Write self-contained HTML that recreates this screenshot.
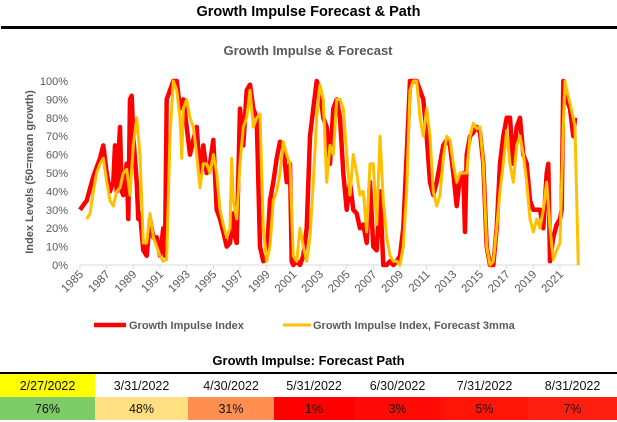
<!DOCTYPE html>
<html><head><meta charset="utf-8">
<style>
html,body{margin:0;padding:0;background:#fff;}
body{width:617px;height:422px;position:relative;overflow:hidden;font-family:"Liberation Sans",sans-serif;}
#main-title{position:absolute;left:0;width:617px;top:4px;text-align:center;font-weight:bold;font-size:14.5px;color:#000;}
#title-rule{position:absolute;left:1px;width:616px;top:26px;height:3px;background:#000;}
#table-title{position:absolute;left:0;width:617px;top:353px;text-align:center;font-weight:bold;font-size:13px;color:#000;}
#path-table{position:absolute;left:0;top:372px;width:617px;border-collapse:collapse;border-top:2px solid #000;font-size:12.5px;}
#path-table td{text-align:center;padding:0;height:23px;color:#111;}
</style></head><body>
<div id="main-title">Growth Impulse Forecast &amp; Path</div>
<div id="title-rule"></div>
<svg id="chart" width="617" height="345" style="position:absolute;left:0;top:0" xmlns="http://www.w3.org/2000/svg"></svg>
<div id="table-title">Growth Impulse: Forecast Path</div>
<table id="path-table">
<tr>
<td style="width:95px;background:#ffff00">2/27/2022</td>
<td style="width:93px">3/31/2022</td>
<td style="width:86px">4/30/2022</td>
<td style="width:80px">5/31/2022</td>
<td style="width:87px">6/30/2022</td>
<td style="width:87px">7/31/2022</td>
<td style="width:89px">8/31/2022</td>
</tr>
<tr>
<td style="background:#7dcc68">76%</td>
<td style="background:#ffdf80">48%</td>
<td style="background:#ff8f50">31%</td>
<td style="background:#ff0000">1%</td>
<td style="background:#ff0a04">3%</td>
<td style="background:#ff1408">5%</td>
<td style="background:#ff1e10">7%</td>
</tr>
</table>
<script>
const redYears=[1985,1985.5,1986,1986.5,1986.75,1987,1987.25,1987.5,1987.625,1987.75,1988,1988.125,1988.25,1988.5,1988.625,1988.75,1988.875,1989,1989.25,1989.375,1989.5,1989.75,1990,1990.25,1990.5,1990.75,1991,1991.25,1991.375,1991.5,1991.75,1992,1992.25,1992.5,1992.75,1993,1993.25,1993.5,1993.75,1994,1994.25,1994.5,1994.75,1995,1995.25,1995.5,1995.75,1996,1996.25,1996.5,1996.625,1996.75,1997,1997.25,1997.5,1997.75,1998,1998.25,1998.5,1998.75,1999,1999.25,1999.5,1999.75,2000,2000.25,2000.5,2000.75,2000.875,2001,2001.25,2001.5,2001.75,2002,2002.25,2002.5,2002.75,2003,2003.25,2003.5,2003.75,2004,2004.25,2004.5,2004.75,2005,2005.25,2005.5,2005.75,2006,2006.25,2006.5,2006.75,2007,2007.25,2007.5,2007.75,2008,2008.25,2008.5,2008.75,2009,2009.25,2009.5,2009.75,2010,2010.25,2010.5,2010.75,2011,2011.25,2011.5,2011.75,2012,2012.25,2012.5,2012.75,2013,2013.25,2013.5,2013.75,2013.875,2014,2014.25,2014.5,2014.75,2015,2015.25,2015.5,2015.75,2016,2016.25,2016.5,2016.75,2017,2017.25,2017.5,2017.75,2018,2018.25,2018.5,2018.75,2019,2019.25,2019.5,2019.75,2020,2020.125,2020.25,2020.5,2020.75,2021,2021.125,2021.25,2021.5,2021.75,2022,2022.125];
const redValues=[30,35,48,58,65,50,40,45,65,40,75,40,38,55,25,90,92,70,45,25,28,8,5,25,15,15,5,20,5,90,95,100,100,85,90,75,60,68,75,48,65,50,55,68,30,25,18,10,12,28,15,12,85,65,95,98,85,80,10,2,5,35,45,58,67,65,45,55,2,0,2,0,5,20,70,85,100,95,80,75,55,85,90,80,50,30,45,30,28,20,22,12,45,10,8,40,0,0,2,0,2,5,20,60,100,100,100,95,90,70,45,38,45,55,65,68,65,50,32,48,50,18,60,70,72,75,72,55,10,0,0,20,55,70,80,80,55,75,80,60,55,35,30,30,30,20,50,55,2,15,22,25,30,100,90,85,70,80];
const yelYears=[1985.5,1985.75,1986,1986.25,1986.5,1986.75,1987,1987.25,1987.5,1987.75,1988,1988.25,1988.5,1988.75,1989,1989.25,1989.5,1989.75,1990,1990.25,1990.5,1990.75,1991,1991.25,1991.5,1991.75,1992,1992.25,1992.5,1992.625,1992.75,1993,1993.25,1993.5,1993.75,1994,1994.25,1994.5,1994.75,1995,1995.25,1995.5,1995.75,1996,1996.25,1996.375,1996.5,1996.75,1997,1997.25,1997.5,1997.75,1998,1998.25,1998.5,1998.75,1999,1999.25,1999.5,1999.75,2000,2000.25,2000.5,2000.75,2001,2001.25,2001.5,2001.75,2002,2002.25,2002.5,2002.75,2003,2003.25,2003.5,2003.75,2004,2004.25,2004.5,2004.75,2005,2005.25,2005.5,2005.75,2006,2006.25,2006.5,2006.75,2007,2007.25,2007.5,2007.75,2008,2008.25,2008.5,2008.75,2009,2009.25,2009.5,2009.75,2010,2010.25,2010.5,2010.75,2011,2011.25,2011.5,2011.75,2012,2012.25,2012.5,2012.75,2013,2013.25,2013.5,2013.75,2014,2014.25,2014.5,2014.75,2015,2015.25,2015.5,2015.75,2016,2016.25,2016.5,2016.75,2017,2017.25,2017.5,2017.75,2018,2018.25,2018.5,2018.75,2019,2019.25,2019.5,2019.75,2020,2020.25,2020.5,2020.75,2021,2021.25,2021.375,2021.5,2021.75,2022,2022.125,2022.375];
const yelValues=[25,28,40,50,55,58,45,35,32,40,42,50,52,38,65,80,60,12,12,28,15,10,5,2,3,70,100,95,80,58,85,90,80,75,60,42,55,55,50,60,50,30,22,15,20,58,35,25,55,75,80,95,75,80,82,20,2,10,35,40,50,67,60,55,5,2,20,10,2,15,45,80,98,90,45,65,60,90,90,85,60,38,60,50,38,40,18,55,55,22,70,35,15,5,2,2,0,10,40,95,100,100,80,70,85,70,40,32,38,58,70,68,55,45,50,50,50,70,77,74,75,55,10,0,2,20,40,55,73,55,45,65,70,60,45,25,18,25,20,30,45,20,3,8,12,75,100,95,88,80,75,0];
const yTicks=[0,10,20,30,40,50,60,70,80,90,100];
const xTickYears=[1985,1987,1989,1991,1993,1995,1997,1999,2001,2003,2005,2007,2009,2011,2013,2015,2017,2019,2021];

const NS="http://www.w3.org/2000/svg";
const svg=document.getElementById('chart');
const X0=80,Y0=265,Y1=81,PXY=13.333;
function xScale(yr){return X0+(yr-1985)*PXY;}
function yScale(v){return Y0-(v/100)*(Y0-Y1);}
function mk(tag,attrs){const e=document.createElementNS(NS,tag);for(const k in attrs)e.setAttribute(k,attrs[k]);svg.appendChild(e);return e;}

const ct=mk('text',{x:308,y:55,'text-anchor':'middle','font-size':'13','font-weight':'bold',fill:'#595959'});
ct.textContent='Growth Impulse & Forecast';



const yt=mk('text',{x:0,y:0,'text-anchor':'middle','font-size':'11','font-weight':'bold',fill:'#595959',transform:'translate(33,172) rotate(-90)'});
yt.textContent='Index Levels (50=mean growth)';



yTicks.forEach(v=>{
  const t=mk('text',{x:68,y:yScale(v)+4,'text-anchor':'end','font-size':'11',fill:'#595959'});
  t.textContent=v+'%';
  
  
});
const ax=mk('line',{x1:X0,x2:xScale(2022.5),y1:Y0,y2:Y0,stroke:'#d9d9d9','stroke-width':1});


xTickYears.forEach(yr=>{
  const x=xScale(yr);
  const tk=mk('line',{x1:x,x2:x,y1:Y0,y2:Y0+4,stroke:'#d9d9d9'});
  
  
  const t=mk('text',{x:0,y:0,'text-anchor':'end','font-size':'11.5',fill:'#595959',transform:'translate('+(x+4)+','+(Y0+10)+') rotate(-45)'});
  t.textContent=yr;
  
  
});
function path(ys,vs){return ys.map((y,i)=>(i?'L':'M')+xScale(y).toFixed(1)+','+yScale(vs[i]).toFixed(1)).join('');}
const rl=mk('path',{d:path(redYears,redValues),fill:'none',stroke:'#ff0000','stroke-width':4.5,'stroke-linejoin':'round'});


const yl=mk('path',{d:path(yelYears,yelValues),fill:'none',stroke:'#ffc000','stroke-width':3,'stroke-linejoin':'round'});



const l1=mk('line',{x1:94,x2:126,y1:325,y2:325,stroke:'#ff0000','stroke-width':4.5});


const lt1=mk('text',{x:129,y:329,'font-size':'11','font-weight':'bold',fill:'#595959'});
lt1.textContent='Growth Impulse Index';


const l2=mk('line',{x1:283,x2:311,y1:325,y2:325,stroke:'#ffc000','stroke-width':3});


const lt2=mk('text',{x:313,y:329,'font-size':'11','font-weight':'bold',fill:'#595959'});
lt2.textContent='Growth Impulse Index, Forecast 3mma';


</script>
</body></html>
